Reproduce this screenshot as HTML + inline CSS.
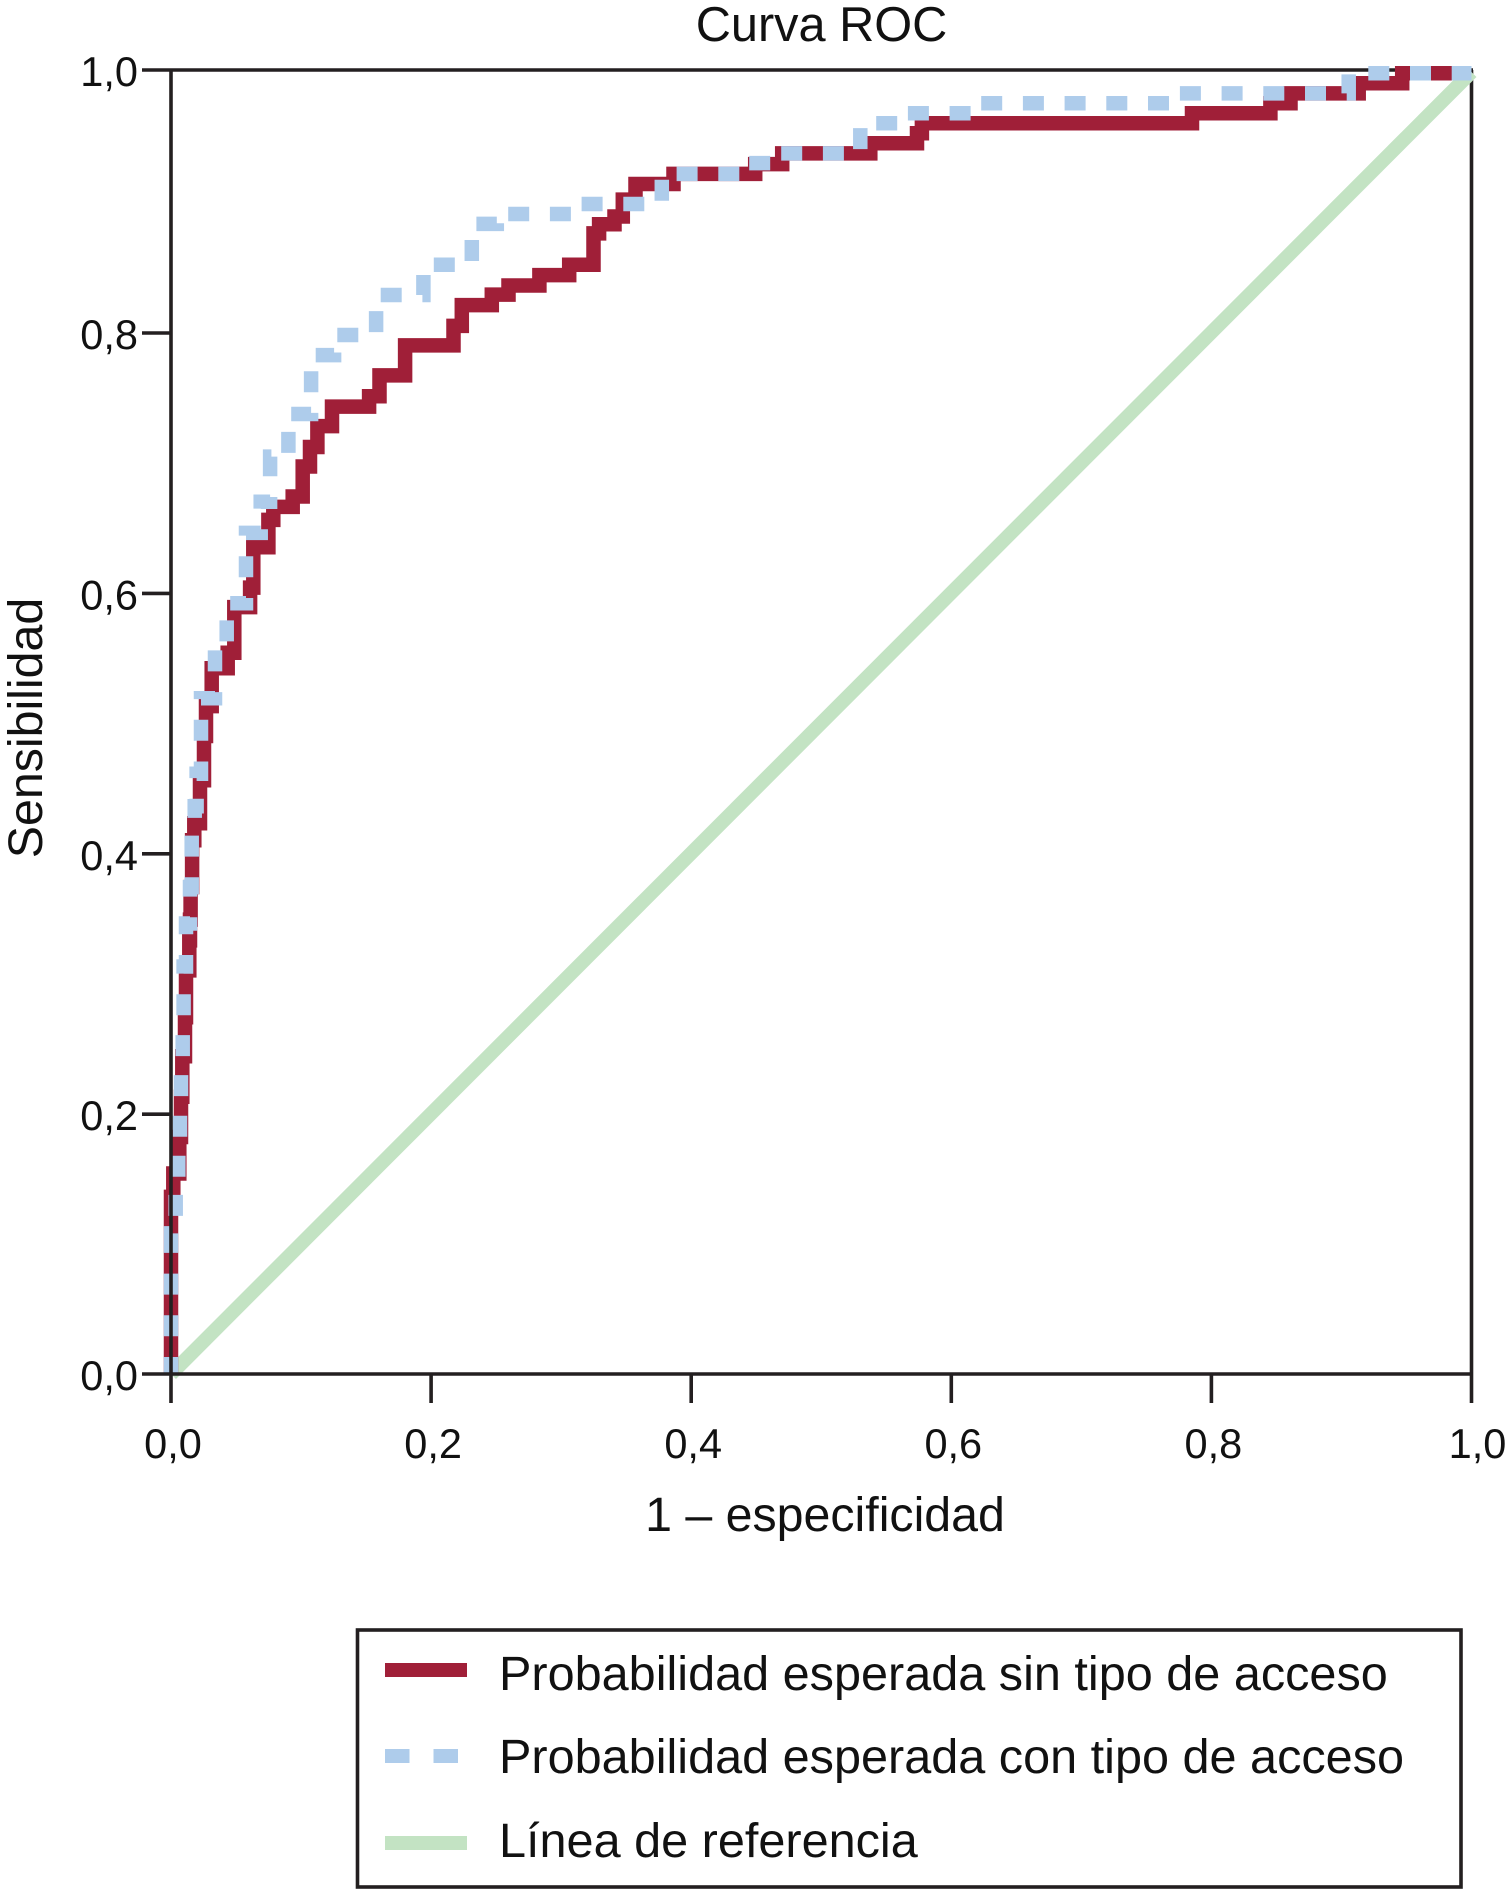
<!DOCTYPE html>
<html lang="es">
<head>
<meta charset="utf-8">
<title>Curva ROC</title>
<style>
  html, body { margin: 0; padding: 0; background: #fff; }
  svg { display: block; }
  text { font-family: "Liberation Sans", sans-serif; fill: #111; }
</style>
</head>
<body>
<svg id="chart" xmlns="http://www.w3.org/2000/svg" width="1509" height="1889" viewBox="0 0 1509 1889">
  <rect x="0" y="0" width="1509" height="1889" fill="#fff"/>
  <text x="821.5" y="41" font-size="48.7" text-anchor="middle">Curva ROC</text>
  <text x="825" y="1531" font-size="48.3" text-anchor="middle">1 – especificidad</text>
  <text transform="translate(42 728) rotate(-90)" font-size="48.3" text-anchor="middle">Sensibilidad</text>
  <g id="frame-back"></g>
  <g id="series"></g>
  <g id="axes"></g>
  <g>
    <rect x="357.5" y="1630" width="1103.5" height="257" fill="#fff" stroke="#231f20" stroke-width="3.6"/>
    <line x1="385" y1="1670" x2="467" y2="1670" stroke="#a01f38" stroke-width="14"/>
    <text x="499" y="1690" font-size="48.6">Probabilidad esperada sin tipo de acceso</text>
    <line x1="385" y1="1756" x2="467" y2="1756" stroke="#aecceb" stroke-width="14" stroke-dasharray="24.5 24"/>
    <text x="499" y="1773" font-size="48.6">Probabilidad esperada con tipo de acceso</text>
    <line x1="385" y1="1843" x2="467" y2="1843" stroke="#c3e3c3" stroke-width="14"/>
    <text x="499" y="1857" font-size="48.6">Línea de referencia</text>
  </g>
</svg>
<script>
// Axis ticks and labels
const xTicks = [0, 0.2, 0.4, 0.6, 0.8, 1];
const yTicks = [0, 0.2, 0.4, 0.6, 0.8, 1];
const xTickLabels = ["0,0", "0,2", "0,4", "0,6", "0,8", "1,0"];
const yTickLabels = ["0,0", "0,2", "0,4", "0,6", "0,8", "1,0"];

// Reference diagonal
const refFpr = [0, 1];
const refTpr = [0, 1];

// ROC without access type (red, solid)
const redFpr = [0,0,.0018,.0018,.0064,.0064,.0077,.0077,.0087,.0087,.0108,.0108,.0115,.0115,.0141,.0141,.0146,.0146,.0151,.0151,.0162,.0162,.0179,.0179,.0223,.0223,.0254,.0254,.0269,.0269,.0313,.0313,.0436,.0436,.0487,.0487,.0608,.0608,.0633,.0633,.0749,.0749,.0787,.0787,.0936,.0936,.1013,.1013,.1069,.1069,.1126,.1126,.1238,.1238,.1523,.1523,.1603,.1603,.18,.18,.2172,.2172,.2236,.2236,.2467,.2467,.2595,.2595,.2833,.2833,.3062,.3062,.3249,.3249,.3292,.3292,.341,.341,.3474,.3474,.3572,.3572,.3864,.3864,.4492,.4492,.47,.47,.5377,.5377,.5736,.5736,.5774,.5774,.7851,.7851,.8454,.8454,.8608,.8608,.9133,.9133,.9467,.9467,1];
const redTpr = [0,.136,.136,.154,.154,.182,.182,.213,.213,.244,.244,.274,.274,.31,.31,.333,.333,.349,.349,.374,.374,.41,.41,.423,.423,.456,.456,.49,.49,.513,.513,.542,.542,.554,.554,.589,.589,.604,.604,.635,.635,.656,.656,.666,.666,.674,.674,.697,.697,.712,.712,.728,.728,.743,.743,.751,.751,.767,.767,.79,.79,.805,.805,.821,.821,.829,.829,.836,.836,.844,.844,.852,.852,.876,.876,.883,.883,.889,.889,.902,.902,.914,.914,.9217,.9217,.9293,.9293,.9375,.9375,.9452,.9452,.9529,.9529,.9606,.9606,.9683,.9683,.976,.976,.9836,.9836,.9913,.9913,.999,.999];

// ROC with access type (blue, dashed)
const blueFpr = [0,0,.0036,.0036,.0056,.0056,.0069,.0069,.0077,.0077,.009,.009,.0097,.0097,.0115,.0115,.0146,.0146,.0159,.0159,.0182,.0182,.0197,.0197,.0231,.0231,.0338,.0338,.0428,.0428,.0518,.0577,.0577,.0633,.069,.069,.0762,.0762,.0903,.0903,.1077,.1077,.1254,.1254,.1577,.1577,.1941,.1941,.2313,.2313,.2505,.2505,.312,.312,.3774,.3774,.4403,.4403,.4659,.4659,.53,.53,.5608,.5608,.6185,.6185,.7736,.7736,.9056,.9056,1];
const blueTpr = [0,.108,.108,.144,.144,.182,.182,.213,.213,.244,.244,.274,.274,.313,.313,.346,.346,.374,.374,.415,.415,.436,.436,.461,.461,.519,.519,.559,.559,.592,.592,.592,.646,.646,.646,.67,.67,.7046,.7046,.7373,.7373,.7826,.7826,.798,.798,.8287,.8287,.852,.852,.8833,.8833,.8909,.8909,.8986,.8986,.9217,.9217,.93,.93,.9375,.9375,.9606,.9606,.9683,.9683,.976,.976,.9836,.9836,.999,.999];

const SVGNS = "http://www.w3.org/2000/svg";
const X0 = 171, XSPAN = 1300.5, Y0 = 1374, YSPAN = 1302, FRAME_TOP = 70;
function xScale(v) { return X0 + v * XSPAN; }
function yScale(v) { return Y0 - v * YSPAN; }
function make(tag, attrs, parent) {
  const el = document.createElementNS(SVGNS, tag);
  for (const k in attrs) el.setAttribute(k, attrs[k]);
  parent.appendChild(el);
  return el;
}
function pathFrom(xs, ys) {
  return xs.map((x, i) => (i ? "L" : "M") + xScale(x).toFixed(1) + " " + yScale(ys[i]).toFixed(1)).join(" ");
}

const AXIS = "#231f20";
const AXIS_W = 3.6;
const back = document.getElementById("frame-back");
const axes = document.getElementById("axes");
const series = document.getElementById("series");

// Top and right frame edges sit behind the curves
const frameTop = make("line", {x1: xScale(0), y1: FRAME_TOP, x2: xScale(1) + 1.5, y2: FRAME_TOP, stroke: AXIS, "stroke-width": AXIS_W}, back);


const frameRight = make("line", {x1: xScale(1), y1: FRAME_TOP, x2: xScale(1), y2: Y0, stroke: AXIS, "stroke-width": AXIS_W}, back);



// Series
const refLine = make("path", {d: pathFrom(refFpr, refTpr), fill: "none", stroke: "#c3e3c3", "stroke-width": 14}, series);


const redLine = make("path", {d: pathFrom(redFpr, redTpr), fill: "none", stroke: "#a01f38", "stroke-width": 14.5, "stroke-linejoin": "miter"}, series);


const blueLine = make("path", {d: pathFrom(blueFpr, blueTpr), fill: "none", stroke: "#aecceb", "stroke-width": 14.5, "stroke-linejoin": "miter", "stroke-dasharray": "21 20.7", "stroke-dashoffset": "4"}, series);



// Left and bottom axis lines sit above the curves
const axisLeft = make("line", {x1: X0, y1: FRAME_TOP, x2: X0, y2: Y0, stroke: AXIS, "stroke-width": AXIS_W}, axes);


const axisBottom = make("line", {x1: X0, y1: Y0, x2: xScale(1) + 1.5, y2: Y0, stroke: AXIS, "stroke-width": AXIS_W}, axes);



xTicks.forEach((t, i) => {
  const px = xScale(t);
  const tick = make("line", {x1: px, y1: Y0, x2: px, y2: 1403, stroke: AXIS, "stroke-width": AXIS_W}, axes);
  
  
  const dx = i === xTicks.length - 1 ? 8 : 4;
  const label = make("text", {x: px + dx - 2, y: 1458, "font-size": 41.5, "text-anchor": "middle"}, axes);
  
  
  label.textContent = xTickLabels[i];
});

yTicks.forEach((t, i) => {
  const py = i === yTicks.length - 1 ? FRAME_TOP : yScale(t) + (t > 0 ? 0.6 : 0);
  const tick = make("line", {x1: 142, y1: py, x2: X0, y2: py, stroke: AXIS, "stroke-width": AXIS_W}, axes);
  
  
  const label = make("text", {x: 138, y: py + 16, "font-size": 41.5, "text-anchor": "end"}, axes);
  
  
  label.textContent = yTickLabels[i];
});
</script>
</body>
</html>
